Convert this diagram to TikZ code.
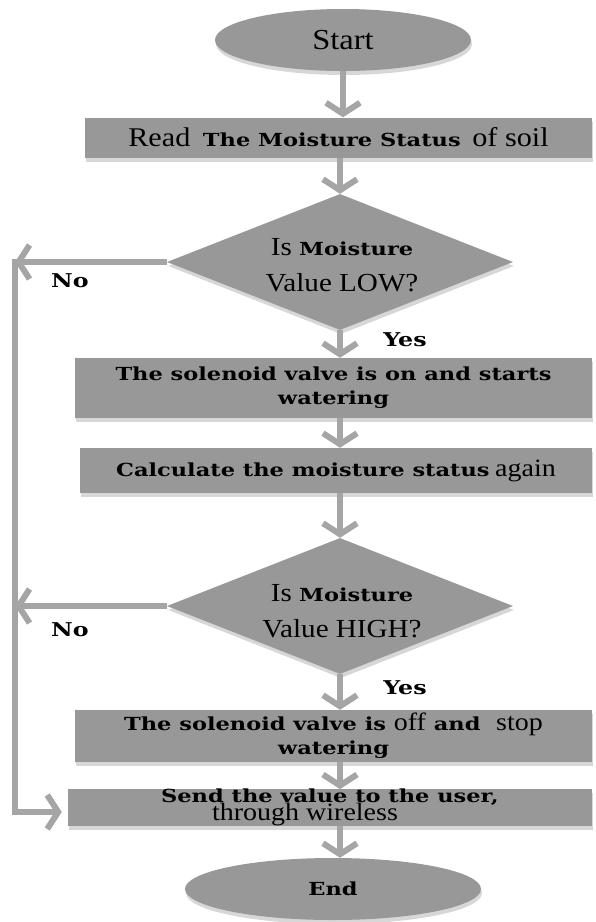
\documentclass[tikz,border=0pt]{standalone}
\usepackage{fontspec}
\setmainfont{Liberation Serif}[FakeStretch=1.12]
\newfontfamily\widefont[FakeStretch=1.25]{DejaVu Serif}
\usetikzlibrary{shapes.geometric,arrows.meta,shadows}
\definecolor{boxgray}{RGB}{152,152,152}
\definecolor{arrgray}{RGB}{165,165,165}
\definecolor{shadowgray}{RGB}{215,215,215}
\newcommand{\wtxt}{\widefont\bfseries\fontsize{18}{24}\selectfont}
\newcommand{\ttxt}{\normalfont\fontsize{27}{30}\selectfont}
\tikzset{
  shp/.style={fill=boxgray, draw=none, inner sep=0pt, align=center,
    drop shadow={shadow xshift=1pt, shadow yshift=-4pt, fill=shadowgray, opacity=1}},
  boxnode/.style={shp, rectangle},
  ovalnode/.style={shp, ellipse},
  dianode/.style={shp, diamond},
  conn/.style={draw=arrgray, line width=6pt},
  arr/.style={conn, -{Straight Barb[length=11pt, width=34pt, line width=6pt]}},
  tm/.style={font=\normalfont\fontsize{29}{32}\selectfont},
  wd/.style={font=\wtxt},
  lbl/.style={font=\widefont\bfseries\fontsize{19}{22}\selectfont},
}
\begin{document}
\begin{tikzpicture}[x=1pt,y=-1pt]
\useasboundingbox (0,0) rectangle (596,922);
% shapes
\node[ovalnode, minimum width=256pt, minimum height=62pt, tm] (start) at (343,40) {Start};
\node[boxnode, minimum width=507pt, minimum height=40pt] (read) at (338.5,137.5)
  {\ttxt Read\hspace{5pt} {\wtxt The Moisture Status}\hspace{4pt} of soil};
\node[dianode, minimum width=346pt, minimum height=136pt] (d1) at (340,262) {};
\node[align=center, inner sep=0pt, font=\normalfont\fontsize{26}{36}\selectfont] (d1t) at (342,265)
  {Is {\wtxt Moisture}\\Value LOW?};
\node[boxnode, minimum width=517pt, minimum height=60pt, wd] (on) at (333.5,388)
  {The solenoid valve is on and starts\\watering};
\node[boxnode, minimum width=512pt, minimum height=45pt] (calc) at (336,470.5)
  {{\wtxt Calculate the moisture status}\ \ {\normalfont\fontsize{25}{28}\selectfont again}};
\node[dianode, minimum width=346pt, minimum height=136pt] (d2) at (340,606) {};
\node[align=center, inner sep=0pt, font=\normalfont\fontsize{26}{36}\selectfont] (d2t) at (342,611)
  {Is {\wtxt Moisture}\\Value HIGH?};
\node[boxnode, minimum width=517pt, minimum height=52pt, wd] (off) at (333.5,736)
  {The solenoid valve is {\normalfont\fontsize{25}{24}\selectfont off} and\ \ {\normalfont\fontsize{25}{24}\selectfont stop}\\watering};
\node[boxnode, minimum width=524pt, minimum height=35pt] (send) at (330,807.5)
  {{\widefont\bfseries\fontsize{18}{17}\selectfont Send the value to the user,}\\[-4pt]%
   {\normalfont\fontsize{25}{17}\selectfont through wireless}\kern50pt};
\node[ovalnode, minimum width=296pt, minimum height=62pt, wd] (end) at (333,889) {End};
% labels
\node[lbl] (no1) at (70,281) {No};
\node[lbl] (yes1) at (405,340) {Yes};
\node[lbl] (no2) at (70,630) {No};
\node[lbl] (yes2) at (405,688) {Yes};
% loop coordinates
\coordinate (L1) at (15,262);
\coordinate (L2) at (15,606);
\coordinate (L3) at (15,812);
\coordinate (L0) at (15,259);
% main connectors
\draw[arr] (start.south) -- (start.south |- read.north);
\draw[arr] (d1.north |- read.south) -- (d1.north);
\draw[arr] (d1.south) -- (d1.south |- on.north);
\draw[arr] (d1.south |- on.south) -- (d1.south |- calc.north);
\draw[arr] (d2.north |- calc.south) -- (d2.north);
\draw[arr] (d2.south) -- (d2.south |- off.north);
\draw[arr] (d2.south |- off.south) -- (d2.south |- send.north);
\draw[arr] (d2.south |- send.south) -- (d2.south |- end.north);
% loop
\draw[conn, line cap=butt] (L0) -- (L3) -- ++(3,0);
\draw[arr, shorten >=6pt] (L3) -- (L3 -| send.west);
\draw[arr] (d1.west) -- (L1);
\draw[arr] (d2.west) -- (L2);
\end{tikzpicture}
\end{document}
